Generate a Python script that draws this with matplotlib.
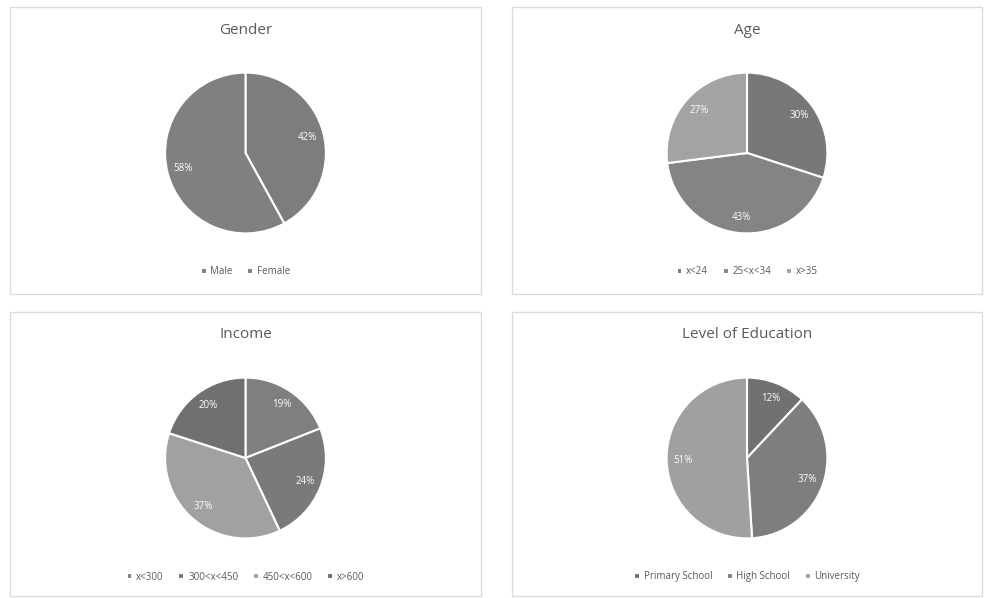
import matplotlib.pyplot as plt
from matplotlib.patches import Rectangle

# Data (percent)
gender_labels = ["Male", "Female"]
gender_values = [42, 58]
gender_colors = ["#7d7d7d", "#808080"]

age_labels = ["x<24", "25<x<34", "x>35"]
age_values = [30, 43, 27]
age_colors = ["#787878", "#848484", "#a3a3a3"]

income_labels = ["x<300", "300<x<450", "450<x<600", "x>600"]
income_values = [19, 24, 37, 20]
income_colors = ["#7f7f7f", "#7a7a7a", "#a1a1a1", "#707070"]

edu_labels = ["Primary School", "High School", "University"]
edu_values = [12, 37, 51]
edu_colors = ["#717171", "#7e7e7e", "#a0a0a0"]

W, H = 984, 598
fig = plt.figure(figsize=(W / 100, H / 100), dpi=100)
plt.rcParams["font.family"] = ["Open Sans", "DejaVu Sans"]


def px(x0, y0, x1, y1):
    # pixel box (top-left origin) -> figure fraction rect
    return [x0 / W, 1 - y1 / H, (x1 - x0) / W, (y1 - y0) / H]


panels = [
    ("Gender", gender_labels, gender_values, gender_colors, (10, 7, 481, 294)),
    ("Age", age_labels, age_values, age_colors, (512, 7, 982, 294)),
    ("Income", income_labels, income_values, income_colors, (10, 312, 481, 596)),
    ("Level of Education", edu_labels, edu_values, edu_colors, (512, 312, 982, 596)),
]

for title, labels, values, colors, box in panels:
    x0, y0, x1, y1 = box
    fig.patches.append(Rectangle((x0 / W, 1 - y1 / H), (x1 - x0) / W, (y1 - y0) / H,
                                 transform=fig.transFigure, fill=False,
                                 edgecolor="#dcdcdc", linewidth=1))
    cx = (x0 + x1) / 2
    cy = y0 + 146
    r = 82
    ax = fig.add_axes(px(cx - r, cy - r, cx + r, cy + r))
    wedges, texts, autotexts = ax.pie(values, colors=colors, startangle=90, counterclock=False,
                                      autopct="%.0f%%", pctdistance=0.8,
                                      wedgeprops=dict(edgecolor="white", linewidth=1.5),
                                      textprops=dict(color="white", fontsize=7))
    ax.set_xlim(-1.02, 1.02)
    ax.set_ylim(-1.02, 1.02)
    ax.set_aspect("equal")
    ax.axis("off")

    fig.text(cx / W, 1 - (y0 + 23) / H, title, ha="center", va="center",
             fontsize=11, color="#595959")
    fig.legend(wedges, labels, loc="center", bbox_to_anchor=(cx / W, 1 - (y0 + 265) / H),
               ncol=len(labels), frameon=False, fontsize=7, labelcolor="#595959",
               handlelength=0.6, handleheight=0.6, handletextpad=0.4, columnspacing=1.5)

plt.savefig("out.png", dpi=100)
